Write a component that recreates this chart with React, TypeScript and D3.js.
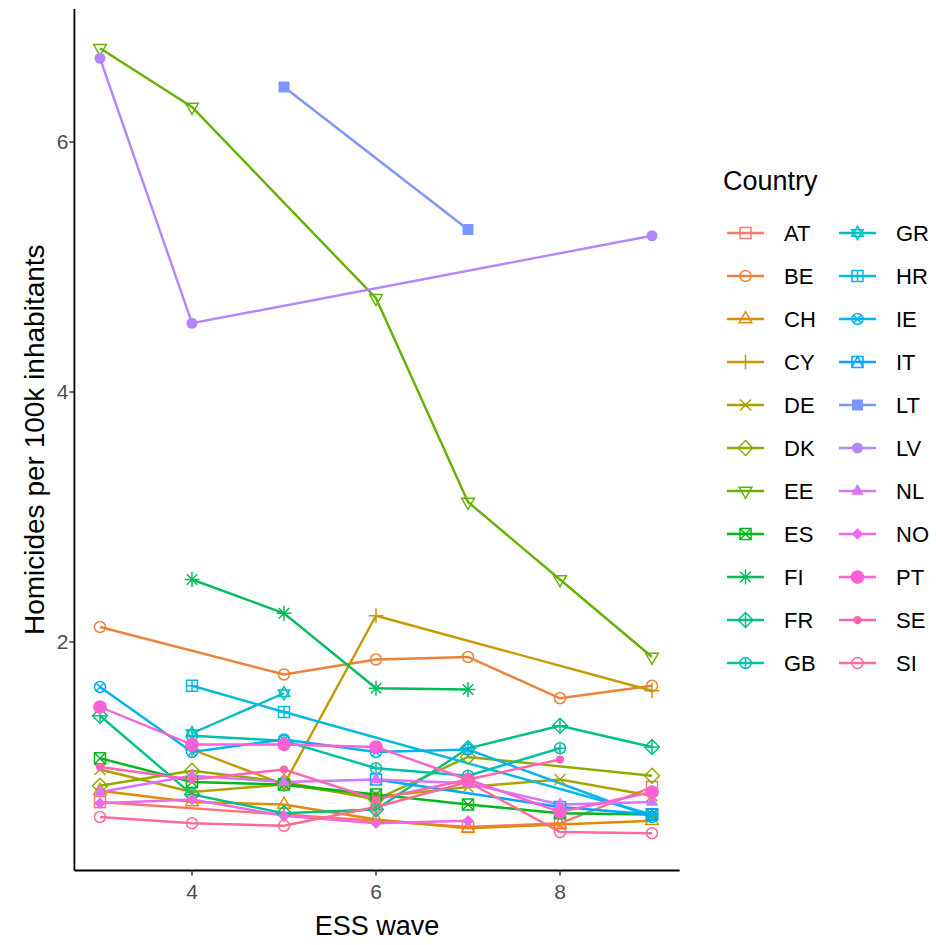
import React from "react";
import * as d3 from "d3";

const countries = ["AT","BE","CH","CY","DE","DK","EE","ES","FI","FR","GB","GR","HR","IE","IT","LT","LV","NL","NO","PT","SE","SI"];
// ggplot shape codes per country (0..21)
const shapes = [0,1,2,3,4,5,6,7,8,9,10,11,12,13,14,15,16,17,18,19,20,21];

const waves_AT = [3,7,8,9];       const vals_AT = [0.72,0.52,0.55,0.84];
const waves_BE = [3,5,6,7,8,9];   const vals_BE = [2.12,1.74,1.86,1.88,1.55,1.65];
const waves_CH = [3,4,5,6,7,8,9]; const vals_CH = [0.81,0.72,0.70,0.58,0.51,0.54,0.57];
const waves_CY = [4,5,6,9];       const vals_CY = [1.14,0.86,2.21,1.61];
const waves_DE = [3,4,5,6,7,8,9]; const vals_DE = [0.98,0.80,0.86,0.76,0.84,0.90,0.77];
const waves_DK = [3,4,5,6,7,9];   const vals_DK = [0.85,0.97,0.88,0.74,1.08,0.93];
const waves_EE = [3,4,6,7,8,9];   const vals_EE = [6.75,6.28,4.75,3.12,2.50,1.88];
const waves_ES = [3,4,5,6,7,8,9]; const vals_ES = [1.07,0.88,0.86,0.78,0.70,0.63,0.62];
const waves_FI = [4,5,6,7];       const vals_FI = [2.50,2.23,1.63,1.62];
const waves_FR = [3,4,5,6,7,8,9]; const vals_FR = [1.41,0.78,0.63,0.66,1.15,1.33,1.16];
const waves_GB = [4,5,6,7,8];     const vals_GB = [1.25,1.21,0.99,0.93,1.15];
const waves_GR = [4,5];           const vals_GR = [1.27,1.59];
const waves_HR = [4,5,9];         const vals_HR = [1.65,1.44,0.62];
const waves_IE = [3,4,5,6,7,9];   const vals_IE = [1.64,1.12,1.22,1.12,1.14,0.60];
const waves_IT = [6,8,9];         const vals_IT = [0.90,0.68,0.62];
const waves_LT = [5,7];           const vals_LT = [6.44,5.30];
const waves_LV = [3,4,9];         const vals_LV = [6.67,4.55,5.25];
const waves_NL = [3,4,5,6,7,8,9]; const vals_NL = [0.80,0.93,0.88,0.90,0.87,0.70,0.72];
const waves_NO = [3,4,5,6,7];     const vals_NO = [0.71,0.74,0.61,0.55,0.57];
const waves_PT = [3,4,5,6,7,8,9]; const vals_PT = [1.48,1.18,1.18,1.16,0.90,0.64,0.80];
const waves_SE = [3,4,5,6,7,8];   const vals_SE = [1.00,0.90,0.98,0.74,0.90,1.06];
const waves_SI = [3,4,5,6,7,8,9]; const vals_SI = [0.60,0.55,0.53,0.68,0.88,0.48,0.47];

const allWaves = [waves_AT,waves_BE,waves_CH,waves_CY,waves_DE,waves_DK,waves_EE,waves_ES,waves_FI,waves_FR,waves_GB,waves_GR,waves_HR,waves_IE,waves_IT,waves_LT,waves_LV,waves_NL,waves_NO,waves_PT,waves_SE,waves_SI];
const allVals = [vals_AT,vals_BE,vals_CH,vals_CY,vals_DE,vals_DK,vals_EE,vals_ES,vals_FI,vals_FR,vals_GB,vals_GR,vals_HR,vals_IE,vals_IT,vals_LT,vals_LV,vals_NL,vals_NO,vals_PT,vals_SE,vals_SI];

const xTicks = [4,6,8];
const yTicks = [2,4,6];

// R's hcl() (polar CIE-LUV) to hex
function hclR(h: number, c: number, l: number): string {
  const hr = (h * Math.PI) / 180;
  const u = c * Math.cos(hr), v = c * Math.sin(hr);
  const Xn = 95.047, Yn = 100, Zn = 108.883;
  const den = Xn + 15 * Yn + 3 * Zn;
  const un = (4 * Xn) / den, vn = (9 * Yn) / den;
  const Y = l > 8 ? Yn * Math.pow((l + 16) / 116, 3) : (Yn * l) / 903.3;
  const up = u / (13 * l) + un, vp = v / (13 * l) + vn;
  const X = (9 * Y * up) / (4 * vp);
  const Z = (Y * (12 - 3 * up - 20 * vp)) / (4 * vp);
  const x = X / 100, y = Y / 100, z = Z / 100;
  let r = 3.240479 * x - 1.53715 * y - 0.498535 * z;
  let g = -0.969256 * x + 1.875992 * y + 0.041556 * z;
  let b = 0.055648 * x - 0.204043 * y + 1.057311 * z;
  const gam = (t: number) => (t <= 0.0031308 ? 12.92 * t : 1.055 * Math.pow(t, 1 / 2.4) - 0.055);
  const cl = (t: number) => Math.max(0, Math.min(1, t));
  r = cl(gam(r)); g = cl(gam(g)); b = cl(gam(b));
  return d3.rgb(r * 255, g * 255, b * 255).formatHex();
}
const colors = countries.map((_, i) => hclR(15 + (360 / countries.length) * i, 100, 65));

const W = 936, H = 945;
const xMinD = 3, xMaxD = 9, yMinD = 0.47, yMaxD = 6.75;
const xExp = (xMaxD - xMinD) * 0.05, yExp = (yMaxD - yMinD) * 0.05;
const x = d3.scaleLinear().domain([4, 8]).range([192, 560]);
const y = d3.scaleLinear().domain([2, 6]).range([642, 142]);
const pL = x(xMinD - xExp) + 2, pR = x(xMaxD + xExp);
const pT = y(yMaxD + yExp), pB = y(yMinD - yExp) - 2;

const FONT = "Liberation Sans, Arial, sans-serif";

function Sym({ shape, cx, cy, color }: { shape: number; cx: number; cy: number; color: string }) {
  const s = 5.5;
  const sw = 1.5;
  const common = { stroke: color, strokeWidth: sw, fill: "none" };
  const triUp = (r: number) => `M${cx},${cy - r * 1.15} L${cx + r},${cy + r * 0.58} L${cx - r},${cy + r * 0.58} Z`;
  const triDn = (r: number) => `M${cx},${cy + r * 1.15} L${cx + r},${cy - r * 0.58} L${cx - r},${cy - r * 0.58} Z`;
  const diam = (r: number) => `M${cx},${cy - r} L${cx + r},${cy} L${cx},${cy + r} L${cx - r},${cy} Z`;
  const plus = (r: number) => `M${cx - r},${cy} L${cx + r},${cy} M${cx},${cy - r} L${cx},${cy + r}`;
  const cross = (r: number) => `M${cx - r},${cy - r} L${cx + r},${cy + r} M${cx - r},${cy + r} L${cx + r},${cy - r}`;
  const sq = <rect x={cx - s} y={cy - s} width={2 * s} height={2 * s} {...common} />;
  switch (shape) {
    case 0: return sq;
    case 1: return <circle cx={cx} cy={cy} r={s} {...common} />;
    case 2: return <path d={triUp(s * 1.15)} {...common} />;
    case 3: return <path d={plus(s * 1.35)} {...common} />;
    case 4: return <path d={cross(s)} {...common} />;
    case 5: return <path d={diam(s * 1.35)} {...common} />;
    case 6: return <path d={triDn(s * 1.15)} {...common} />;
    case 7: return <g>{sq}<path d={cross(s)} {...common} /></g>;
    case 8: return <g><path d={plus(s * 1.35)} {...common} /><path d={cross(s * 0.95)} {...common} /></g>;
    case 9: return <g><path d={diam(s * 1.35)} {...common} /><path d={plus(s * 1.35)} {...common} /></g>;
    case 10: return <g><circle cx={cx} cy={cy} r={s} {...common} /><path d={plus(s)} {...common} /></g>;
    case 11: return <g><path d={triUp(s * 1.05)} {...common} /><path d={triDn(s * 1.05)} {...common} /></g>;
    case 12: return <g>{sq}<path d={plus(s)} {...common} /></g>;
    case 13: return <g><circle cx={cx} cy={cy} r={s} {...common} /><path d={cross(s * 0.72)} {...common} /></g>;
    case 14: return <g>{sq}<path d={`M${cx - s},${cy + s} L${cx},${cy - s} L${cx + s},${cy + s}`} {...common} /></g>;
    case 15: return <rect x={cx - s} y={cy - s} width={2 * s} height={2 * s} fill={color} />;
    case 16: return <circle cx={cx} cy={cy} r={s} fill={color} />;
    case 17: return <path d={triUp(s * 1.15)} fill={color} />;
    case 18: return <path d={diam(s * 1.05)} fill={color} />;
    case 19: return <circle cx={cx} cy={cy} r={s * 1.25} fill={color} />;
    case 20: return <circle cx={cx} cy={cy} r={s * 0.75} fill={color} />;
    case 21: return <circle cx={cx} cy={cy} r={s} {...common} />;
    default: return null;
  }
}

export default function App() {
  const line = d3.line<[number, number]>().x((d) => x(d[0])).y((d) => y(d[1]));
  const series = countries.map((c, i) => ({
    c, i, color: colors[i], shape: shapes[i],
    pts: allWaves[i].map((w, j) => [w, allVals[i][j]] as [number, number]),
  }));
  const legX = [727, 839];
  const legRow0 = 233, legStep = 43;
  return (
    <svg width={W} height={H} style={{ position: "absolute", left: 0, top: 0, background: "#fff" }}>
      <rect x={0} y={0} width={W} height={H} fill="#fff" />
      {series.map((s) => (
        <path key={"l" + s.c} d={line(s.pts) || ""} fill="none" stroke={s.color} strokeWidth={2.4} />
      ))}
      {series.map((s) => (
        <g key={"p" + s.c}>
          {s.pts.map((p, j) => (
            <Sym key={j} shape={s.shape} cx={x(p[0])} cy={y(p[1])} color={s.color} />
          ))}
        </g>
      ))}
      <line x1={pL} x2={pL} y1={pT} y2={pB} stroke="#000" strokeWidth={1.8} />
      <line x1={pL} x2={pR} y1={pB} y2={pB} stroke="#000" strokeWidth={1.8} />
      {yTicks.map((t) => (
        <g key={"yt" + t}>
          <line x1={pL - 5} x2={pL} y1={y(t)} y2={y(t)} stroke="#333" strokeWidth={1.5} />
          <text x={pL - 6} y={y(t)} dy="0.35em" textAnchor="end" fontFamily={FONT} fontSize={21} fill="#4D4D4D">{t}</text>
        </g>
      ))}
      {xTicks.map((t) => (
        <g key={"xt" + t}>
          <line x1={x(t)} x2={x(t)} y1={pB} y2={pB + 5} stroke="#333" strokeWidth={1.5} />
          <text x={x(t)} y={pB + 28} textAnchor="middle" fontFamily={FONT} fontSize={21} fill="#4D4D4D">{t}</text>
        </g>
      ))}
      <text x={(pL + pR) / 2} y={935} textAnchor="middle" fontFamily={FONT} fontSize={27} fill="#000">ESS wave</text>
      <text transform={`translate(44,${(pT + pB) / 2}) rotate(-90)`} textAnchor="middle" fontFamily={FONT} fontSize={28} fill="#000">Homicides per 100k inhabitants</text>
      <text x={723} y={190} fontFamily={FONT} fontSize={27} fill="#000">Country</text>
      {series.map((s) => {
        const col = s.i < 11 ? 0 : 1;
        const row = s.i % 11;
        const lx = legX[col];
        const cy = legRow0 + row * legStep;
        return (
          <g key={"lg" + s.c}>
            <line x1={lx} x2={lx + 37} y1={cy} y2={cy} stroke={s.color} strokeWidth={2.4} />
            <Sym shape={s.shape} cx={lx + 18.5} cy={cy} color={s.color} />
            <text x={lx + 57} y={cy} dy="0.36em" fontFamily={FONT} fontSize={22} fill="#000">{s.c}</text>
          </g>
        );
      })}
    </svg>
  );
}
